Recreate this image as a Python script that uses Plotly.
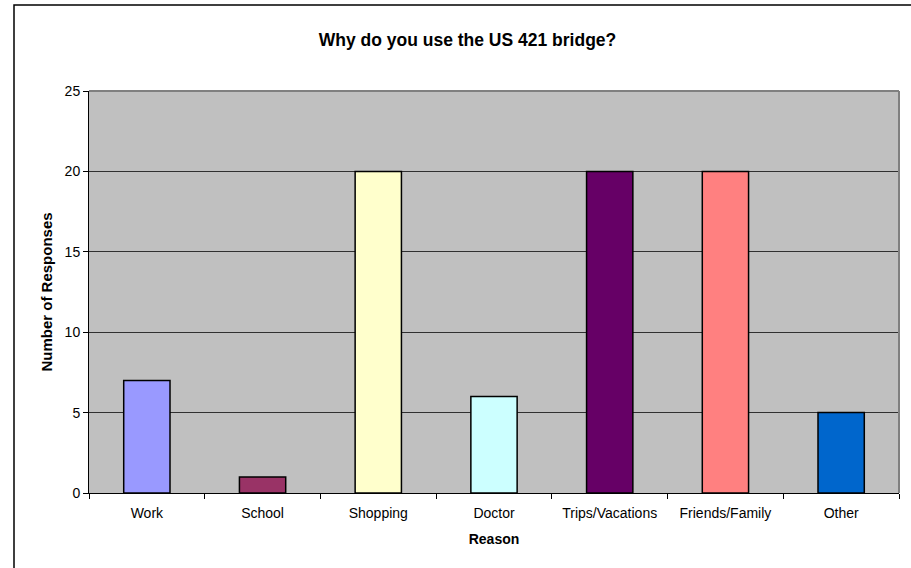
import plotly.graph_objects as go

categories = ["Work", "School", "Shopping", "Doctor", "Trips/Vacations", "Friends/Family", "Other"]
values = [7, 1, 20, 6, 20, 20, 5]
colors = ["#9999FF", "#993366", "#FFFFCC", "#CCFFFF", "#660066", "#FF8080", "#0066CC"]
y_ticks = [0, 5, 10, 15, 20, 25]

W, H = 911, 568
L, R, T, B = 89, 12, 91, 75
pw, ph = W - L - R, H - T - B

FONT = "Liberation Sans, Arial, sans-serif"

fig = go.Figure(go.Bar(
    x=categories, y=values,
    marker=dict(color=colors, line=dict(color="black", width=1.5)),
    width=0.4,
))

def px_x(p):
    return (p - L) / pw

def px_y(p):
    return (H - B - p) / ph

fig.update_layout(
    width=W, height=H,
    margin=dict(l=L, r=R, t=T, b=B, autoexpand=False),
    paper_bgcolor="white",
    plot_bgcolor="#C0C0C0",
    showlegend=False,
    font=dict(family=FONT, size=14, color="black"),
    title=dict(text="<b>Why do you use the US 421 bridge?</b>",
               x=467.5 / W, xanchor="center", xref="container",
               y=1 - 40 / H, yanchor="middle", yref="container",
               font=dict(family=FONT, size=17.5, color="black")),
    xaxis=dict(
        title=dict(text="<b>Reason</b>", font=dict(family=FONT, size=14), standoff=14),
        showline=True, linecolor="black", linewidth=1,
        ticks="outside", ticklen=5, tickcolor="black", tickson="boundaries",
        ticklabelstandoff=7,
        showgrid=False, tickfont=dict(family=FONT, size=14),
    ),
    yaxis=dict(
        title=dict(text="<b>Number of Responses</b>", font=dict(family=FONT, size=15), standoff=8),
        range=[0, 25], tickvals=y_ticks,
        showline=True, linecolor="black", linewidth=1,
        ticks="outside", ticklen=5, tickcolor="black",
        showgrid=True, gridcolor="#303030", gridwidth=1,
        zeroline=False, tickfont=dict(family=FONT, size=14),
    ),
    shapes=[
        dict(type="line", xref="paper", yref="paper", x0=0, x1=1, y0=1, y1=1,
             line=dict(color="#808080", width=2), layer="above"),
        dict(type="line", xref="paper", yref="paper", x0=1, x1=1, y0=0, y1=1,
             line=dict(color="#808080", width=2), layer="above"),
        dict(type="rect", xref="paper", yref="paper",
             x0=px_x(14), x1=px_x(W + 20), y0=px_y(H + 20), y1=px_y(5),
             line=dict(color="black", width=1.5), fillcolor="rgba(0,0,0,0)", layer="above"),
    ],
)

fig.write_html("out.html", config={"displayModeBar": False},
               post_script="document.body.style.margin='0';")
